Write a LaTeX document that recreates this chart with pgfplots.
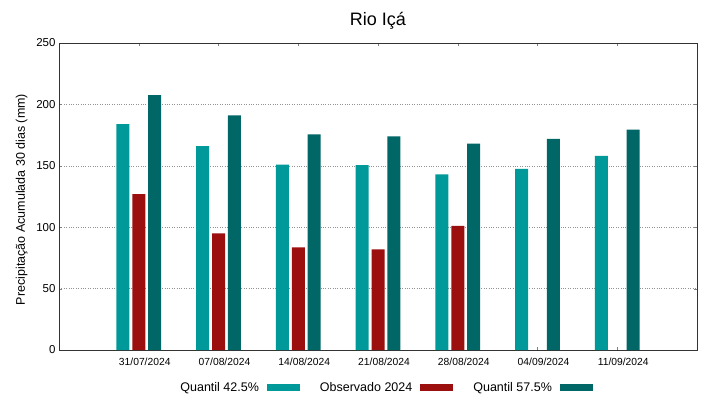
\documentclass[border=0pt]{standalone}
\usepackage{fontspec}
\setmainfont{Liberation Sans}
\usepackage{pgfplots}
\pgfplotsset{compat=1.18}
\definecolor{cA}{RGB}{0,153,153}
\definecolor{cB}{RGB}{155,15,15}
\definecolor{cC}{RGB}{0,102,102}
\begin{document}
\begin{tikzpicture}[x=1pt,y=1pt]
\begin{axis}[
  scale only axis, width=638pt, height=307pt,
  xmin=-1, xmax=7, ymin=0, ymax=250,
  ytick={0,50,...,250},
  xtick={0,...,6},
  xticklabels={31/07/2024,07/08/2024,14/08/2024,21/08/2024,28/08/2024,04/09/2024,11/09/2024},
  x tick label style={font=\fontsize{10.3}{11}\selectfont, yshift=-4pt, xshift=6pt},
  y tick label style={font=\fontsize{11.5}{12}\selectfont},
  /pgf/number format/assume math mode=true,
  tick align=inside, major tick length=3pt,
  ymajorgrids, grid style={gray!85, dotted, line width=0.6pt},
  axis line style={line width=0.6pt, black!80},
  title={Rio Içá}, title style={font=\fontsize{18}{20}\selectfont, yshift=4pt},
  ylabel={Precipitação Acumulada 30 dias (mm)},
  ylabel style={font=\fontsize{12.5}{14}\selectfont, yshift=2pt, xshift=-3pt},
  legend columns=3,
  legend style={draw=none, at={(0.512,-0.122)}, anchor=center, font=\fontsize{12.5}{13}\selectfont,
    legend cell align=left,
    /tikz/every odd column/.append style={column sep=6pt},
    /tikz/every even column/.append style={column sep=18pt}},
  legend plot pos=right,
]
\addplot[ybar, bar width=0.163, bar shift=-0.2, fill=cA, draw=none,
  legend image code/.code={\fill[cA] (0pt,-3.2pt) rectangle (33pt,3.2pt);}]
  coordinates {(0,184) (1,166) (2,151) (3,150.5) (4,143) (5,147.5) (6,158)};
\addlegendentry{Quantil 42.5\%}
\addplot[ybar, bar width=0.163, bar shift=0, fill=cB, draw=none,
  legend image code/.code={\fill[cB] (0pt,-3.2pt) rectangle (33pt,3.2pt);}]
  coordinates {(0,127) (1,95) (2,83.5) (3,82) (4,101)};
\addlegendentry{Observado 2024}
\addplot[ybar, bar width=0.163, bar shift=0.2, fill=cC, draw=none,
  legend image code/.code={\fill[cC] (0pt,-3.2pt) rectangle (33pt,3.2pt);}]
  coordinates {(0,207.5) (1,191) (2,175.5) (3,174) (4,168) (5,172) (6,179.5)};
\addlegendentry{Quantil 57.5\%}
\end{axis}
\path[use as bounding box] ([shift={(-59pt,-49pt)}]current axis.south west) rectangle ([shift={(22pt,43pt)}]current axis.north east);
\end{tikzpicture}
\end{document}
